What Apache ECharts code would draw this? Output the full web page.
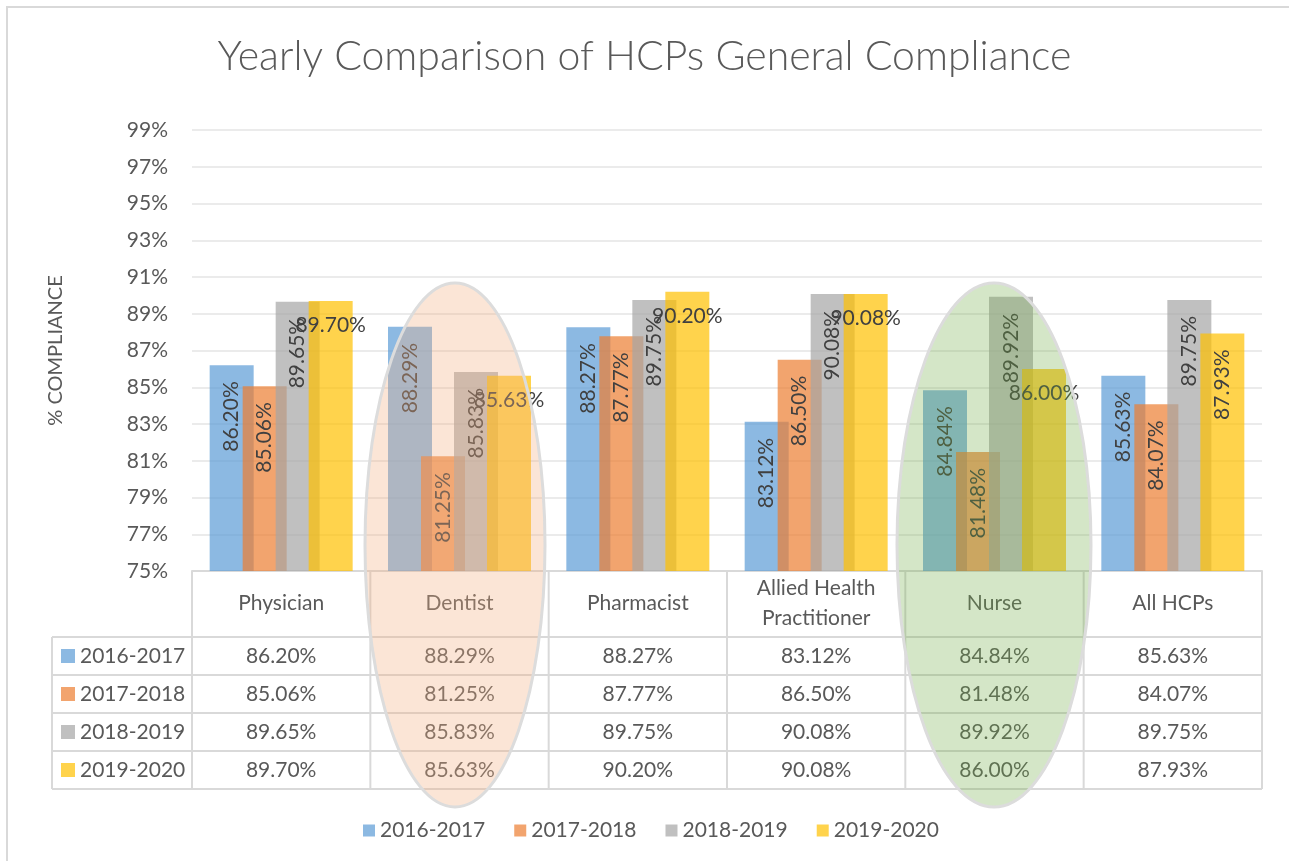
<!DOCTYPE html>
<html>
<head>
<meta charset="utf-8">
<title>Yearly Comparison of HCPs General Compliance</title>
<script src="https://cdn.jsdelivr.net/npm/echarts@6/dist/echarts.min.js"></script>
<style>
  html, body { margin: 0; padding: 0; background: #fff; }
  #chart { width: 1289px; height: 861px; }
</style>
</head>
<body>
<div id="chart"></div>
<script>
// data
const categories = ['Physician', 'Dentist', 'Pharmacist', 'Allied Health\nPractitioner', 'Nurse', 'All HCPs']
const seriesNames = ['2016-2017', '2017-2018', '2018-2019', '2019-2020']
const y2016 = [86.20, 88.29, 88.27, 83.12, 84.84, 85.63]
const y2017 = [85.06, 81.25, 87.77, 86.50, 81.48, 84.07]
const y2018 = [89.65, 85.83, 89.75, 90.08, 89.92, 89.75]
const y2019 = [89.70, 85.63, 90.20, 90.08, 86.00, 87.93]
const yMin = 75
const yMax = 99
const yStep = 2

const allSeries = [y2016, y2017, y2018, y2019]
const colors = ['rgba(91,155,213,0.7)', 'rgba(237,125,49,0.7)', 'rgba(165,165,165,0.7)', 'rgba(255,192,0,0.7)']
// which labels Excel left horizontal (series index -> category indexes)
const flatLabels = { 3: [0, 1, 2, 3, 4] }

const W = 1289
const GRID_LEFT = 192
const GRID_RIGHT = 1262
const GRID_TOP = 130
const GRID_BOTTOM = 571
const colW = (GRID_RIGHT - GRID_LEFT) / categories.length
const rowTops = [637, 675, 713, 751, 789]
const textColor = '#595959'
const lineColor = '#d9d9d9'
const font = 'Lato, "Open Sans", sans-serif'
const fs = 21

const fmt = v => v.toFixed(2) + '%'

const chart = echarts.init(document.getElementById('chart'))

const series = allSeries.map((vals, si) => ({
  name: seriesNames[si],
  type: 'bar',
  barWidth: 44,
  barGap: '-25%',
  itemStyle: { color: colors[si] },
  label: {
    show: true,
    position: 'insideTop',
    rotate: 90,
    align: 'right',
    verticalAlign: 'middle',
    distance: 16,
    fontSize: fs,
    fontFamily: font,
    color: '#404040',
    formatter: p => fmt(p.value)
  },
  data: vals.map((v, ci) => {
    if (flatLabels[si] && flatLabels[si].includes(ci)) {
      return { value: v, label: { rotate: 0, align: 'center', verticalAlign: 'top', distance: 14 } }
    }
    return v
  })
}))

// data table under the axis
const graphic = []
graphic.push({
  type: 'rect', silent: true,
  shape: { x: 7, y: 7, width: W, height: 870 },
  style: { fill: 'none', stroke: lineColor, lineWidth: 2 }
})
for (let k = 0; k <= categories.length; k++) {
  const x = GRID_LEFT + k * colW
  graphic.push({
    type: 'line', silent: true,
    shape: { x1: x, y1: GRID_BOTTOM, x2: x, y2: rowTops[rowTops.length - 1] },
    style: { stroke: lineColor, lineWidth: 2 }
  })
}
graphic.push({
  type: 'line', silent: true,
  shape: { x1: 52, y1: rowTops[0], x2: 52, y2: rowTops[rowTops.length - 1] },
  style: { stroke: lineColor, lineWidth: 2 }
})
rowTops.forEach(y => {
  graphic.push({
    type: 'line', silent: true,
    shape: { x1: 52, y1: y, x2: GRID_RIGHT, y2: y },
    style: { stroke: lineColor, lineWidth: 2 }
  })
})
allSeries.forEach((vals, si) => {
  const cy = (rowTops[si] + rowTops[si + 1]) / 2
  graphic.push({
    type: 'rect', silent: true,
    shape: { x: 61, y: cy - 7, width: 14, height: 14 },
    style: { fill: colors[si] }
  })
  graphic.push({
    type: 'text', silent: true,
    x: 80, y: cy,
    style: { text: seriesNames[si], fill: textColor, font: fs + 'px ' + font, verticalAlign: 'middle', align: 'left' }
  })
  vals.forEach((v, ci) => {
    graphic.push({
      type: 'text', silent: true,
      x: GRID_LEFT + (ci + 0.5) * colW, y: cy,
      style: { text: fmt(v), fill: textColor, font: fs + 'px ' + font, verticalAlign: 'middle', align: 'center' }
    })
  })
})
// highlight ellipses over Dentist and Nurse
graphic.push({
  type: 'ellipse', silent: true, z: 100,
  shape: { cx: 455, cy: 545, rx: 90, ry: 262 },
  style: { fill: 'rgba(244,177,131,0.33)', stroke: '#dcdcdc', lineWidth: 3 }
})
graphic.push({
  type: 'ellipse', silent: true, z: 100,
  shape: { cx: 994, cy: 545, rx: 97, ry: 262 },
  style: { fill: 'rgba(112,173,71,0.3)', stroke: '#dcdcdc', lineWidth: 3 }
})

chart.setOption({
  animation: false,
  textStyle: { fontFamily: font },
  title: {
    text: 'Yearly Comparison of HCPs General Compliance',
    left: 'center',
    top: 31,
    textStyle: { fontSize: 41, fontWeight: 300, color: textColor, fontFamily: font }
  },
  legend: {
    left: 358,
    top: 815,
    icon: 'rect',
    itemWidth: 12,
    itemHeight: 12,
    itemGap: 29,
    textStyle: { fontSize: fs, color: textColor },
    data: seriesNames
  },
  grid: {
    left: GRID_LEFT,
    right: W - GRID_RIGHT,
    top: GRID_TOP,
    bottom: 861 - GRID_BOTTOM,
    containLabel: false
  },
  xAxis: {
    type: 'category',
    data: categories,
    axisLine: { lineStyle: { color: lineColor, width: 2 } },
    axisTick: { show: false },
    axisLabel: {
      margin: 32,
      verticalAlign: 'middle',
      lineHeight: 30,
      fontSize: fs,
      color: textColor,
      interval: 0
    }
  },
  yAxis: {
    type: 'value',
    min: yMin,
    max: yMax,
    interval: yStep,
    name: '% COMPLIANCE',
    nameLocation: 'middle',
    nameRotate: 90,
    nameGap: 126,
    nameTextStyle: { fontSize: 20, color: textColor },
    axisLine: { show: false },
    axisTick: { show: false },
    axisLabel: { fontSize: fs, color: textColor, margin: 24, formatter: v => v + '%' },
    splitLine: { lineStyle: { color: '#ebebeb', width: 2 } }
  },
  series: series,
  graphic: graphic
})
</script>
</body>
</html>
